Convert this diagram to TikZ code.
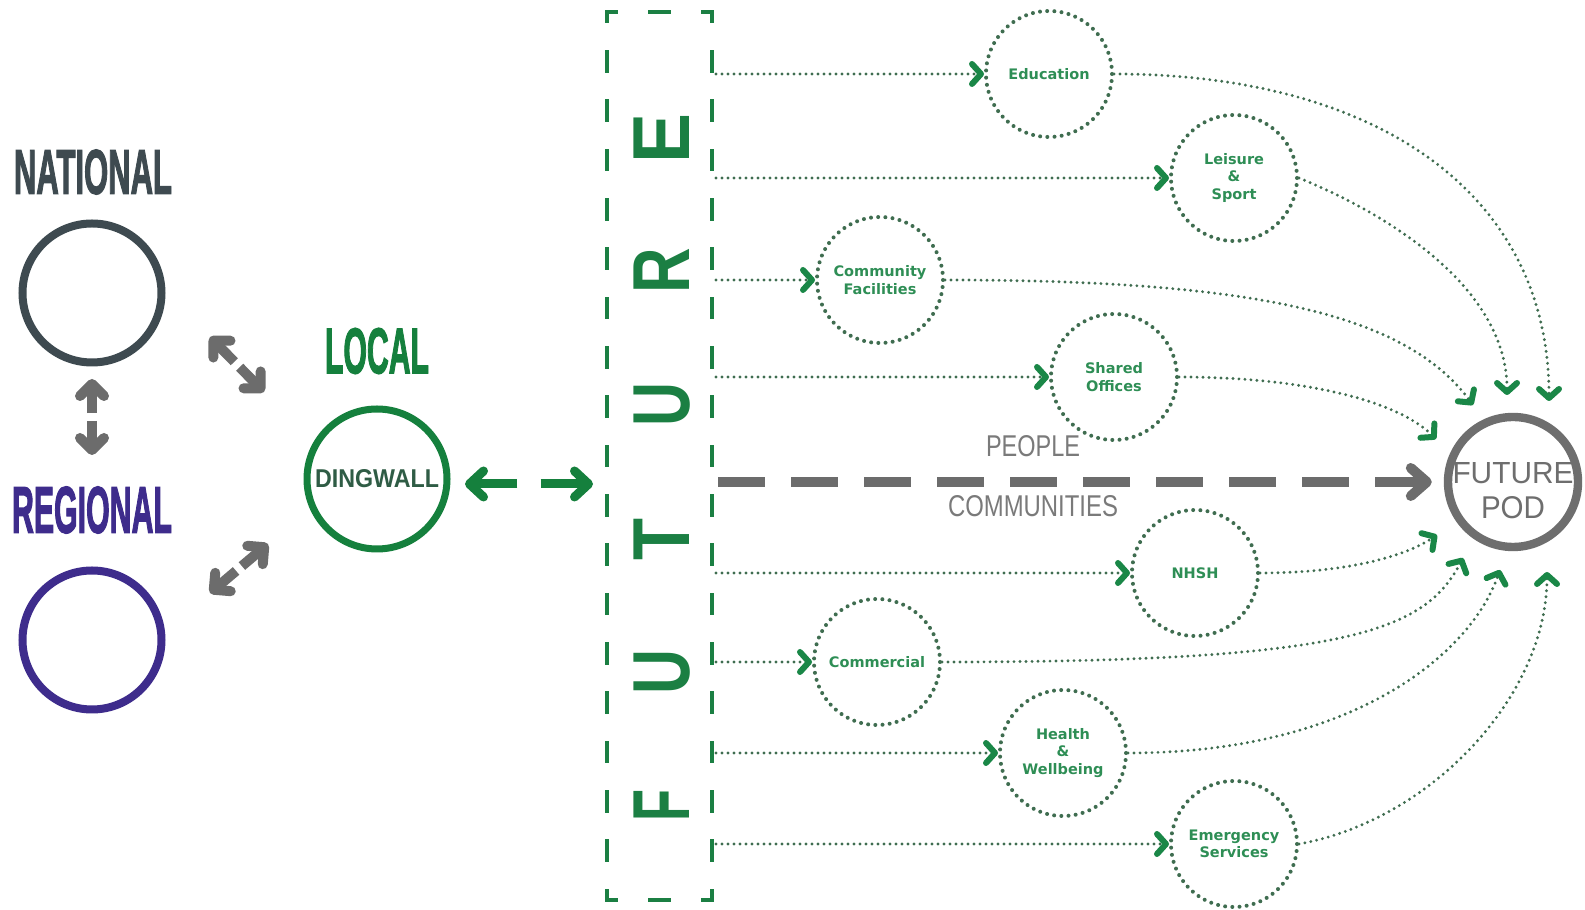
\documentclass[tikz,border=0pt]{standalone}
\usepackage{fontspec}
\usepackage{graphicx}
\setmainfont{Liberation Sans}
\newfontfamily\hubfont{DejaVu Sans}
\newfontfamily\heavy{Liberation Sans Bold}[FakeBold=2.5]
\usetikzlibrary{arrows.meta,calc}

\definecolor{natgray}{HTML}{3E4A50}
\definecolor{regpurple}{HTML}{3E2C8C}
\definecolor{locgreen}{HTML}{15803D}
\definecolor{futgreen}{HTML}{1B7F43}
\definecolor{dotgreen}{HTML}{3F6D50}
\definecolor{tipgreen}{HTML}{1A8747}
\definecolor{txtgreen}{HTML}{2E8E55}
\definecolor{arrgray}{HTML}{6C6C6C}
\definecolor{podgray}{HTML}{6E6E6E}
\definecolor{lblgray}{HTML}{7A7A7A}
\definecolor{dinggray}{HTML}{2F5C45}

\begin{document}
\begin{tikzpicture}[x=0.5pt,y=0.5pt,
  ring/.style={circle,inner sep=0pt,minimum size=69.5pt,line width=4pt},
  caps/.style={inner sep=0pt},
  hub/.style={circle,draw=dotgreen,line width=2pt,dash pattern=on 0pt off 3.6pt,
    line cap=round,minimum size=63pt,inner sep=0pt,align=center,text=txtgreen,
    font=\hubfont\bfseries\fontsize{7.25}{8.8}\selectfont},
  flow/.style={draw=dotgreen,line width=1.6pt,dash pattern=on 0pt off 3pt,line cap=round,
    -{Straight Barb[round,length=4.5pt,width=10pt,line width=3pt,color=tipgreen]}},
  grayarr/.style={draw=arrgray,line width=5pt,-{Straight Barb[round,length=6pt,width=12pt]}},
  greenarr/.style={draw=locgreen,line width=4.5pt,-{Straight Barb[round,length=7pt,width=13pt]}},
  mainarr/.style={draw=arrgray,line width=5pt,dash pattern=on 23.5pt off 13pt,
    -{Straight Barb[round,length=8pt,width=14pt]}},
  boxside/.style={draw=futgreen,line width=2.4pt,line cap=rect},
  fletter/.style={text=futgreen,rotate=90,inner sep=0pt}
]
\path[fill=white,use as bounding box] (0,0) rectangle (1585,910);

% national / regional / local
\node[caps,text=natgray] (natlbl) at (93,738) {\resizebox{79pt}{22pt}{\heavy NATIONAL}};
\node[ring,draw=natgray] (nat) at (92,617) {};
\node[caps,text=regpurple] (reglbl) at (92,400) {\resizebox{80pt}{23pt}{\heavy REGIONAL}};
\node[ring,draw=regpurple] (reg) at (92,270) {};
\node[caps,text=locgreen] (loclbl) at (377,559) {\resizebox{52pt}{22.5pt}{\heavy LOCAL}};
\node[circle,inner sep=0pt,minimum size=70pt,line width=3.5pt,draw=locgreen,text=dinggray]
  (ding) at (377,431) {\resizebox{62pt}{9pt}{\bfseries DINGWALL}};

% two-way links between the levels
\coordinate (nr1) at (92,531);  \coordinate (nr2) at (92,455);
\coordinate (nl1) at (210,573); \coordinate (nl2) at (264,518);
\coordinate (rl1) at (210,317); \coordinate (rl2) at (268,366);
\draw[grayarr] ($(nr1)!0.45!(nr2)$) -- (nr1);
\draw[grayarr] ($(nr1)!0.55!(nr2)$) -- (nr2);
\draw[grayarr] ($(nl1)!0.45!(nl2)$) -- (nl1);
\draw[grayarr] ($(nl1)!0.55!(nl2)$) -- (nl2);
\draw[grayarr] ($(rl1)!0.45!(rl2)$) -- (rl1);
\draw[grayarr] ($(rl1)!0.55!(rl2)$) -- (rl2);

% FUTURE column
\node[inner sep=0pt,outer sep=0pt,minimum width=52.5pt,minimum height=444pt] (box) at (659.5,454) {};
\draw[boxside,dash pattern=on 8.8pt off 17.45pt,dash phase=4.4pt] (box.north west) -- (box.north east);
\draw[boxside,dash pattern=on 8.8pt off 17.45pt,dash phase=4.4pt] (box.south west) -- (box.south east);
\draw[boxside,dash pattern=on 8.8pt off 15.867pt,dash phase=4.4pt] (box.north west) -- (box.south west);
\draw[boxside,dash pattern=on 8.8pt off 15.867pt,dash phase=4.4pt] (box.north east) -- (box.south east);
\node[fletter] (f1) at (662,105) {\resizebox{16pt}{27.8pt}{\bfseries F}};
\node[fletter] (f2) at (662,238) {\resizebox{22.5pt}{27.8pt}{\bfseries U}};
\node[fletter] (f3) at (662,370) {\resizebox{21pt}{27.8pt}{\bfseries T}};
\node[fletter] (f4) at (662,505) {\resizebox{22pt}{27.8pt}{\bfseries U}};
\node[fletter] (f5) at (662,639) {\resizebox{22.75pt}{27.8pt}{\bfseries R}};
\node[fletter] (f6) at (662,771) {\resizebox{25pt}{27.8pt}{\bfseries E}};

\coordinate (dA) at ([xshift=7.25pt,yshift=-2.5pt]ding.east);
\coordinate (bw) at (dA -| box.west);
\coordinate (dB) at ([xshift=-7pt]bw);
\draw[greenarr] ($(dA)!0.41!(dB)$) -- (dA);
\draw[greenarr] ($(dA)!0.59!(dB)$) -- (dB);

% themes
\node[hub] (edu) at (1049,836) {Education};
\node[hub] (lei) at (1234,732) {Leisure\\\&\\Sport};
\node[hub] (com) at (880,630) {Community\\Facilities};
\node[hub] (sha) at (1114,533) {Shared\\Offices};
\node[hub] (nhs) at (1195,337) {NHSH};
\node[hub] (cml) at (877,248) {Commercial};
\node[hub] (hea) at (1063,157) {Health\\\&\\Wellbeing};
\node[hub] (emr) at (1234,66) {Emergency\\Services};

\foreach \h in {edu,lei,com,sha,nhs,cml,hea,emr}
  \draw[flow,shorten <=2pt] (box.east |- \h.west) -- (\h.west);

% future pod
\node[circle,draw=podgray,line width=4.2pt,minimum size=65pt,inner sep=0pt] (pod) at (1513,428) {};
\node[caps,text=podgray] (podt) at ([yshift=4.5pt]pod.center) {\resizebox{60.5pt}{10.5pt}{FUTURE}};
\node[caps,text=podgray] (podb) at ([yshift=-13pt]pod.center) {\resizebox{32pt}{11pt}{POD}};

\draw[mainarr,shorten <=3pt,shorten >=6pt] (box.east |- pod.west) -- (pod.west);
\node[caps,text=lblgray] (ppl) at (1033,464) {\resizebox{47pt}{10.5pt}{PEOPLE}};
\node[caps,text=lblgray] (cmt) at (1033,404) {\resizebox{85pt}{10.5pt}{COMMUNITIES}};

\coordinate (pe1) at ($(pod.center)+(36,81)$);
\coordinate (pe2) at ($(pod.center)+(-6,87)$);
\coordinate (pe3) at ($(pod.center)+(-40,77)$);
\coordinate (pe4) at ($(pod.center)+(-77,43)$);
\coordinate (pe5) at ($(pod.center)+(-76,-53)$);
\coordinate (pe6) at ($(pod.center)+(-50,-76)$);
\coordinate (pe7) at ($(pod.center)+(-13,-88)$);
\coordinate (pe8) at ($(pod.center)+(34,-90)$);

\draw[flow] (edu.east) .. controls ($(edu.east)+(268,0)$) and ($(pe1)+(0,204)$) .. (pe1);
\draw[flow] (lei.east) .. controls ($(lei.east)+(103,-42)$) and ($(pe2)+(0,101)$) .. (pe2);
\draw[flow] (com.east) .. controls ($(com.east)+(307,0)$) and ($(pe3)+(-68,92)$) .. (pe3);
\draw[flow] (sha.east) .. controls ($(sha.east)+(123,0)$) and ($(pe4)+(-40,39)$) .. (pe4);
\draw[flow] (nhs.east) .. controls ($(nhs.east)+(82,0)$) and ($(pe5)+(-35,-23)$) .. (pe5);
\draw[flow] (cml.east) .. controls ($(cml.east)+(410,0)$) and ($(pe6)+(-38,-72)$) .. (pe6);
\draw[flow] (hea.east) .. controls ($(hea.east)+(224,0)$) and ($(pe7)+(-30,-85)$) .. (pe7);
\draw[flow] (emr.east) .. controls ($(emr.east)+(133,24)$) and ($(pe8)+(0,-123)$) .. (pe8);
\end{tikzpicture}
\end{document}
